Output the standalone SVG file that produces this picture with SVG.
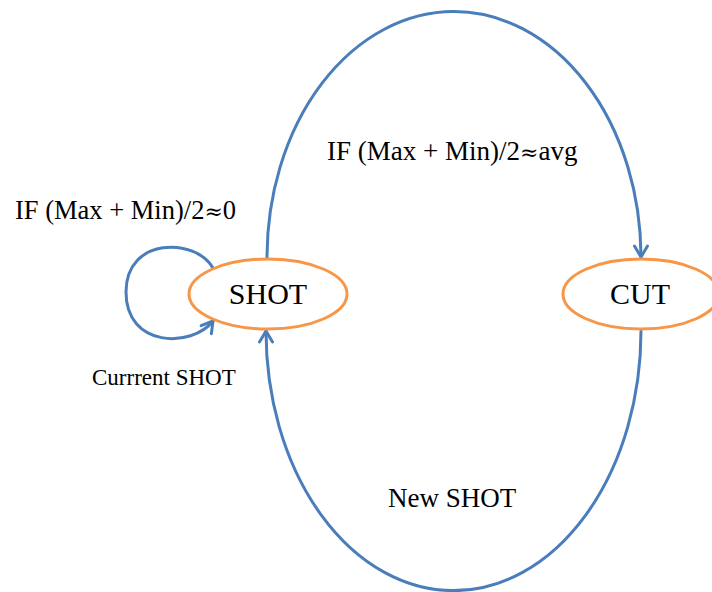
<svg xmlns="http://www.w3.org/2000/svg" width="712" height="592" viewBox="0 0 712 592">
  <style>
    .state { fill: #FFFFFF; stroke: #F79646; stroke-width: 3; }
    .edge { fill: none; stroke: #4A7EBB; stroke-width: 3; stroke-linecap: round; }
    .label { font-family: "Liberation Serif", "Times New Roman", "DejaVu Serif", serif; fill: #000000; }
    .sym { font-family: "DejaVu Serif", serif; }
  </style>
  <defs>
    <marker id="arrow" markerUnits="userSpaceOnUse" markerWidth="16" markerHeight="16" viewBox="0 0 16 16" refX="14" refY="8" orient="auto">
      <path d="M3,1.5 L14,8 L3,14.5" fill="none" stroke="#4A7EBB" stroke-width="3" stroke-linecap="round" stroke-linejoin="round"/>
    </marker>
  </defs>

  <!-- transitions -->
  <g id="connectors">
    <!-- SHOT to CUT, over the top -->
    <path class="edge" d="M 267 258 A 187 246 0 0 1 641 257" marker-end="url(#arrow)"/>
    <!-- CUT back to SHOT, under the bottom -->
    <path class="edge" d="M 641 331 A 187 259 0 0 1 266 331" marker-end="url(#arrow)"/>
    <!-- SHOT self loop -->
    <path class="edge" d="M 213 268 C 196 238, 126 236, 126 292 C 126 348, 192 348, 213 321" marker-end="url(#arrow)"/>
  </g>

  <g id="edge-labels">
    <text class="label" x="15" y="219" font-size="26.5">IF (Max + Min)/2<tspan class="sym" font-size="22">≈</tspan>0</text>
    <text class="label" x="327" y="160" font-size="27">IF (Max + Min)/2<tspan class="sym" font-size="22">≈</tspan>avg</text>
    <text class="label" x="92" y="385" font-size="23">Currrent SHOT</text>
    <text class="label" x="388" y="507" font-size="27">New SHOT</text>
  </g>

  <g id="node-shot">
    <ellipse class="state" cx="268" cy="294" rx="79" ry="35"/>
    <text class="label" x="268" y="304" font-size="30" text-anchor="middle">SHOT</text>
  </g>

  <g id="node-cut">
    <ellipse class="state" cx="641" cy="294" rx="78" ry="35"/>
    <text class="label" x="640" y="304" font-size="30" text-anchor="middle">CUT</text>
  </g>
</svg>
